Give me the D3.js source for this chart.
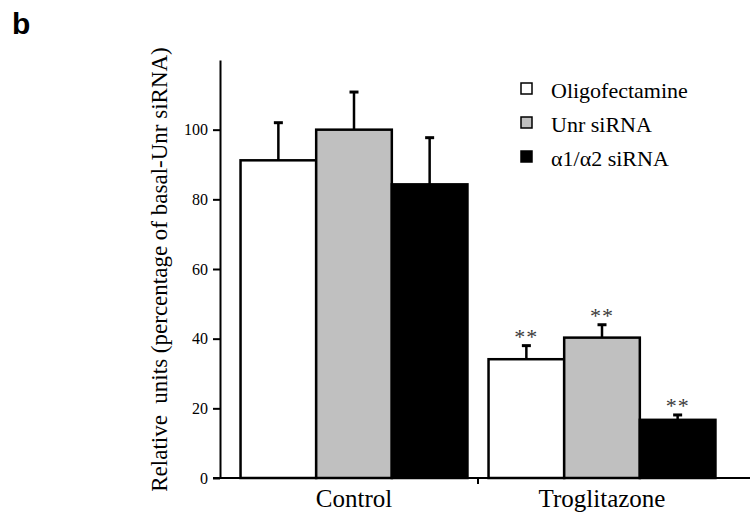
<!DOCTYPE html>
<html>
<head>
<meta charset="utf-8">
<script src="https://cdn.jsdelivr.net/npm/d3@7"></script>
<style>
  body { margin: 0; background: #fff; }
  svg { display: block; font-family: "Liberation Serif", "Times New Roman", serif; }
</style>
</head>
<body>
<svg id="chart" width="750" height="513"></svg>
<script>
const groups = ["Control", "Troglitazone"];
const series = ["Oligofectamine", "Unr siRNA", "\u03b11/\u03b12 siRNA"];
const fills = ["#ffffff", "#c0c0c0", "#000000"];
const means = [[91.2, 100, 84.3], [34.1, 40.3, 16.7]];
const errors = [[10.8, 10.8, 13.4], [3.9, 3.7, 1.4]];
const marks = [["", "", ""], ["**", "**", "**"]];
const yTicks = [0, 20, 40, 60, 80, 100];

let svg = d3.select("#chart");
let axisX = 220, baseY = 478;

let y = d3.scaleLinear().domain([0, 120]).range([baseY, 60]);

let x0 = d3.scaleBand()
  .domain(groups)
  .range([230, 726])
  .paddingInner(0.085)
  .paddingOuter(0.0425);

let x1 = d3.scaleBand()
  .domain(series)
  .range([0, x0.bandwidth()]);

// panel letter
svg.append("text")
  .attr("x", 12)
  .attr("y", 34)
  .style("font-family", "'Liberation Sans', Arial, sans-serif")
  .style("font-weight", "bold")
  .style("font-size", "30px")
  .text("b");

// bars
let rows = [];
groups.forEach((g, i) => series.forEach((s, j) => {
  rows.push({ g: g, s: s, v: means[i][j], e: errors[i][j], m: marks[i][j], fill: fills[j] });
}));

let chart = svg.append("g");

chart.selectAll(".bar")
  .data(rows)
  .enter()
  .append("rect")
  .attr("class", "bar")
  .attr("x", (d) => x0(d.g) + x1(d.s))
  .attr("y", (d) => y(d.v))
  .attr("width", x1.bandwidth())
  .attr("height", (d) => y(0) - y(d.v))
  .attr("fill", (d) => d.fill)
  .attr("stroke", "#000")
  .attr("stroke-width", 2.5);

// error bars (upper only)
let cx = (d) => x0(d.g) + x1(d.s) + x1.bandwidth() / 2;
chart.selectAll(".err")
  .data(rows)
  .enter()
  .append("line")
  .attr("class", "err")
  .attr("x1", cx)
  .attr("x2", cx)
  .attr("y1", (d) => y(d.v))
  .attr("y2", (d) => y(d.v + d.e))
  .attr("stroke", "#000")
  .attr("stroke-width", 2.5);
chart.selectAll(".cap")
  .data(rows)
  .enter()
  .append("line")
  .attr("class", "cap")
  .attr("x1", (d) => cx(d) - 4.5)
  .attr("x2", (d) => cx(d) + 4.5)
  .attr("y1", (d) => y(d.v + d.e))
  .attr("y2", (d) => y(d.v + d.e))
  .attr("stroke", "#000")
  .attr("stroke-width", 3);

// significance stars
chart.selectAll(".sig")
  .data(rows.filter((d) => d.m))
  .enter()
  .append("text")
  .attr("class", "sig")
  .attr("x", cx)
  .attr("y", (d) => y(d.v + d.e) - 2)
  .attr("text-anchor", "middle")
  .attr("fill", "#3a3a3a")
  .style("font-size", "22px")
  .style("letter-spacing", "1px")
  .text((d) => d.m);

// y axis
let yAxis = svg.append("g")
  .attr("transform", `translate(${axisX},0)`)
  .call(d3.axisLeft(y).tickValues(yTicks).tickSize(7).tickSizeOuter(0));
yAxis.select(".domain").attr("stroke-width", 2);
yAxis.selectAll(".tick line").attr("stroke-width", 2);
yAxis.selectAll(".tick text")
  .attr("x", -12)
  .style("font-family", "'Liberation Serif', serif")
  .style("font-size", "16px")
  .attr("fill", "#000");

// x axis: baseline, group labels, separator tick
svg.append("line")
  .attr("x1", axisX - 7)
  .attr("x2", 750)
  .attr("y1", baseY)
  .attr("y2", baseY)
  .attr("stroke", "#000")
  .attr("stroke-width", 2);

let xAxis = svg.append("g")
  .attr("transform", `translate(0,${baseY})`)
  .call(d3.axisBottom(x0).tickSize(0).tickPadding(11));
xAxis.select(".domain").remove();
xAxis.selectAll(".tick text")
  .style("font-family", "'Liberation Serif', serif")
  .style("font-size", "25px")
  .attr("fill", "#000");

let sepX = x0(groups[1]) - (x0.step() * x0.paddingInner()) / 2;
svg.append("line")
  .attr("x1", sepX)
  .attr("x2", sepX)
  .attr("y1", baseY)
  .attr("y2", baseY + 6)
  .attr("stroke", "#000")
  .attr("stroke-width", 2);

// y label
svg.append("text")
  .attr("transform", `translate(167,${(49 + 490) / 2}) rotate(-90)`)
  .attr("text-anchor", "middle")
  .style("font-size", "23px")
  .style("white-space", "pre")
  .text("Relative  units (percentage of basal-Unr siRNA)");

// legend
let legend = svg.append("g").attr("transform", "translate(520,98)");
let item = legend.selectAll(".item")
  .data(series)
  .enter()
  .append("g")
  .attr("class", "item")
  .attr("transform", (d, i) => `translate(0,${i * 34})`);
item.append("rect")
  .attr("x", 1)
  .attr("y", -15)
  .attr("width", 11)
  .attr("height", 11)
  .attr("fill", (d, i) => fills[i])
  .attr("stroke", "#000")
  .attr("stroke-width", 1.5);
item.append("text")
  .attr("x", 31)
  .attr("y", 0)
  .style("font-size", "22px")
  .text((d) => d);
</script>
</body>
</html>
